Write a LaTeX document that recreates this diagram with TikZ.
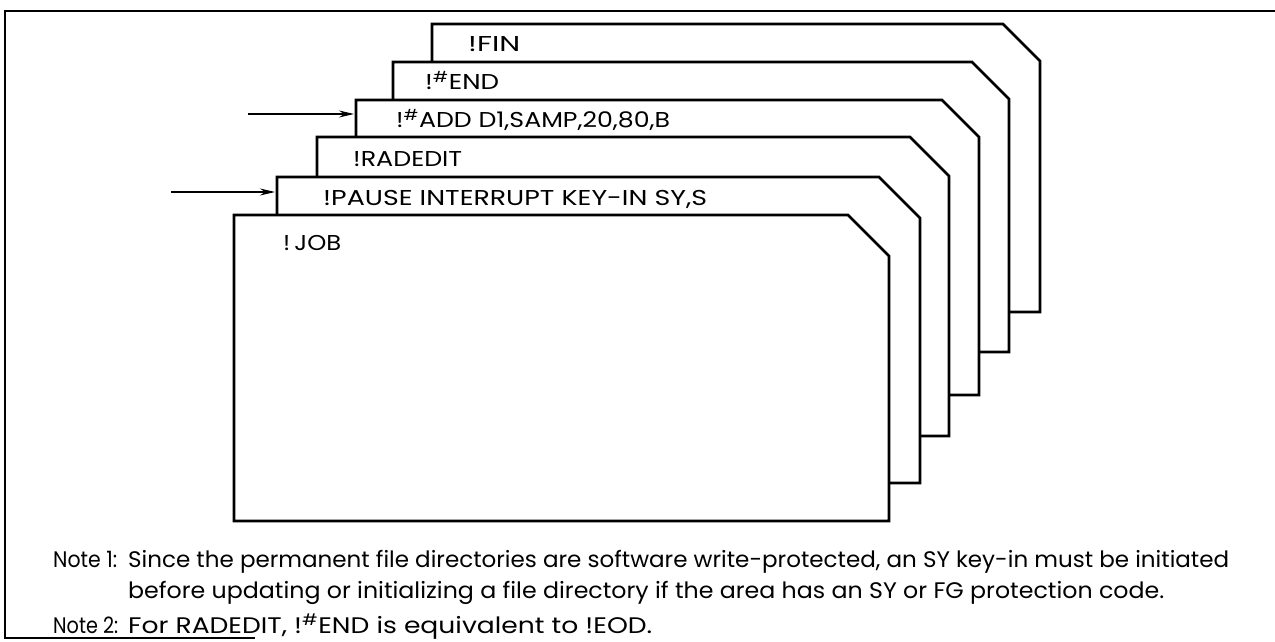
\documentclass[tikz,border=0pt]{standalone}
\usepackage{fontspec}
\usepackage{graphicx}
\setmainfont{Poppins}
\usetikzlibrary{arrows.meta}
\newcommand{\hsh}{\textsuperscript{\#}}
\newcommand{\fitw}[2]{\resizebox{#1}{\height}{#2}}
\tikzset{
  card/.style={draw=black, fill=white, line width=2.6pt, line join=miter},
  cardtext/.style={anchor=base west, inner sep=0pt, font=\fontsize{21.5}{24}\selectfont},
  notetext/.style={anchor=base west, inner sep=0pt, font=\fontsize{22.5}{26}\selectfont},
  frame/.style={draw=black, line width=2pt},
  pointer/.style={draw=black, line width=1.4pt, -{Stealth[length=15pt,width=7pt]}}
}
% \cardshape{L}{T}{C}{R}{B}
\newcommand{\cardshape}[5]{%
  \path[card] (#1,#5) -- (#1,#2) -- (#3,#2) -- (#4,{#2+#4-#3}) -- (#4,#5) -- cycle;}
\begin{document}
\begin{tikzpicture}[x=1pt,y=-1pt]
\useasboundingbox (0,0) rectangle (1275,642);
% frame
\draw[frame] (1275,11) -- (5,11) -- (5,638) -- (255,638);
% cards, back to front
\cardshape{432}{24}{1003}{1040}{312}
\cardshape{393}{62}{972}{1009}{352}
\cardshape{356}{100}{942}{979}{395}
\cardshape{317}{137}{910}{949}{436}
\cardshape{277}{177}{879}{920}{483}
\cardshape{234}{215}{848}{889}{521}
% card labels
\node[cardtext] (fin) at (468,52) {\fitw{52pt}{!FIN}};
\node[cardtext] (end) at (425,90) {\fitw{74pt}{!\hsh END}};
\node[cardtext] (add) at (396,128) {\fitw{274pt}{!\hsh ADD D1,SAMP,20,80,B}};
\node[cardtext] (rad) at (353,166) {\fitw{109pt}{!RADEDIT}};
\node[cardtext] (pause) at (323,205) {\fitw{384pt}{!PAUSE INTERRUPT KEY-IN SY,S}};
\node[cardtext] (job) at (283,250) {\fitw{58pt}{!\,JOB}};
% arrows
\coordinate (addfrom) at (248,114);
\coordinate (addcard) at (354,114);
\coordinate (pausefrom) at (171,192);
\coordinate (pausecard) at (275,192);
\draw[pointer] (addfrom) -- (addcard);
\draw[pointer] (pausefrom) -- (pausecard);
% notes
\node[notetext] (n1) at (53,567) {\fitw{64pt}{Note 1:}};
\node[notetext] (n1a) at (128,567) {\fitw{1101pt}{Since the permanent file directories are software write-protected, an SY key-in must be initiated}};
\node[notetext] (n1b) at (128,598) {\fitw{1036pt}{before updating or initializing a file directory if the area has an SY or FG protection code.}};
\node[notetext] (n2) at (53,633) {\fitw{65pt}{Note 2:}};
\node[notetext] (n2a) at (128,633) {\fitw{524pt}{For RADEDIT, !\hsh END is equivalent to !EOD.}};
\end{tikzpicture}
\end{document}
